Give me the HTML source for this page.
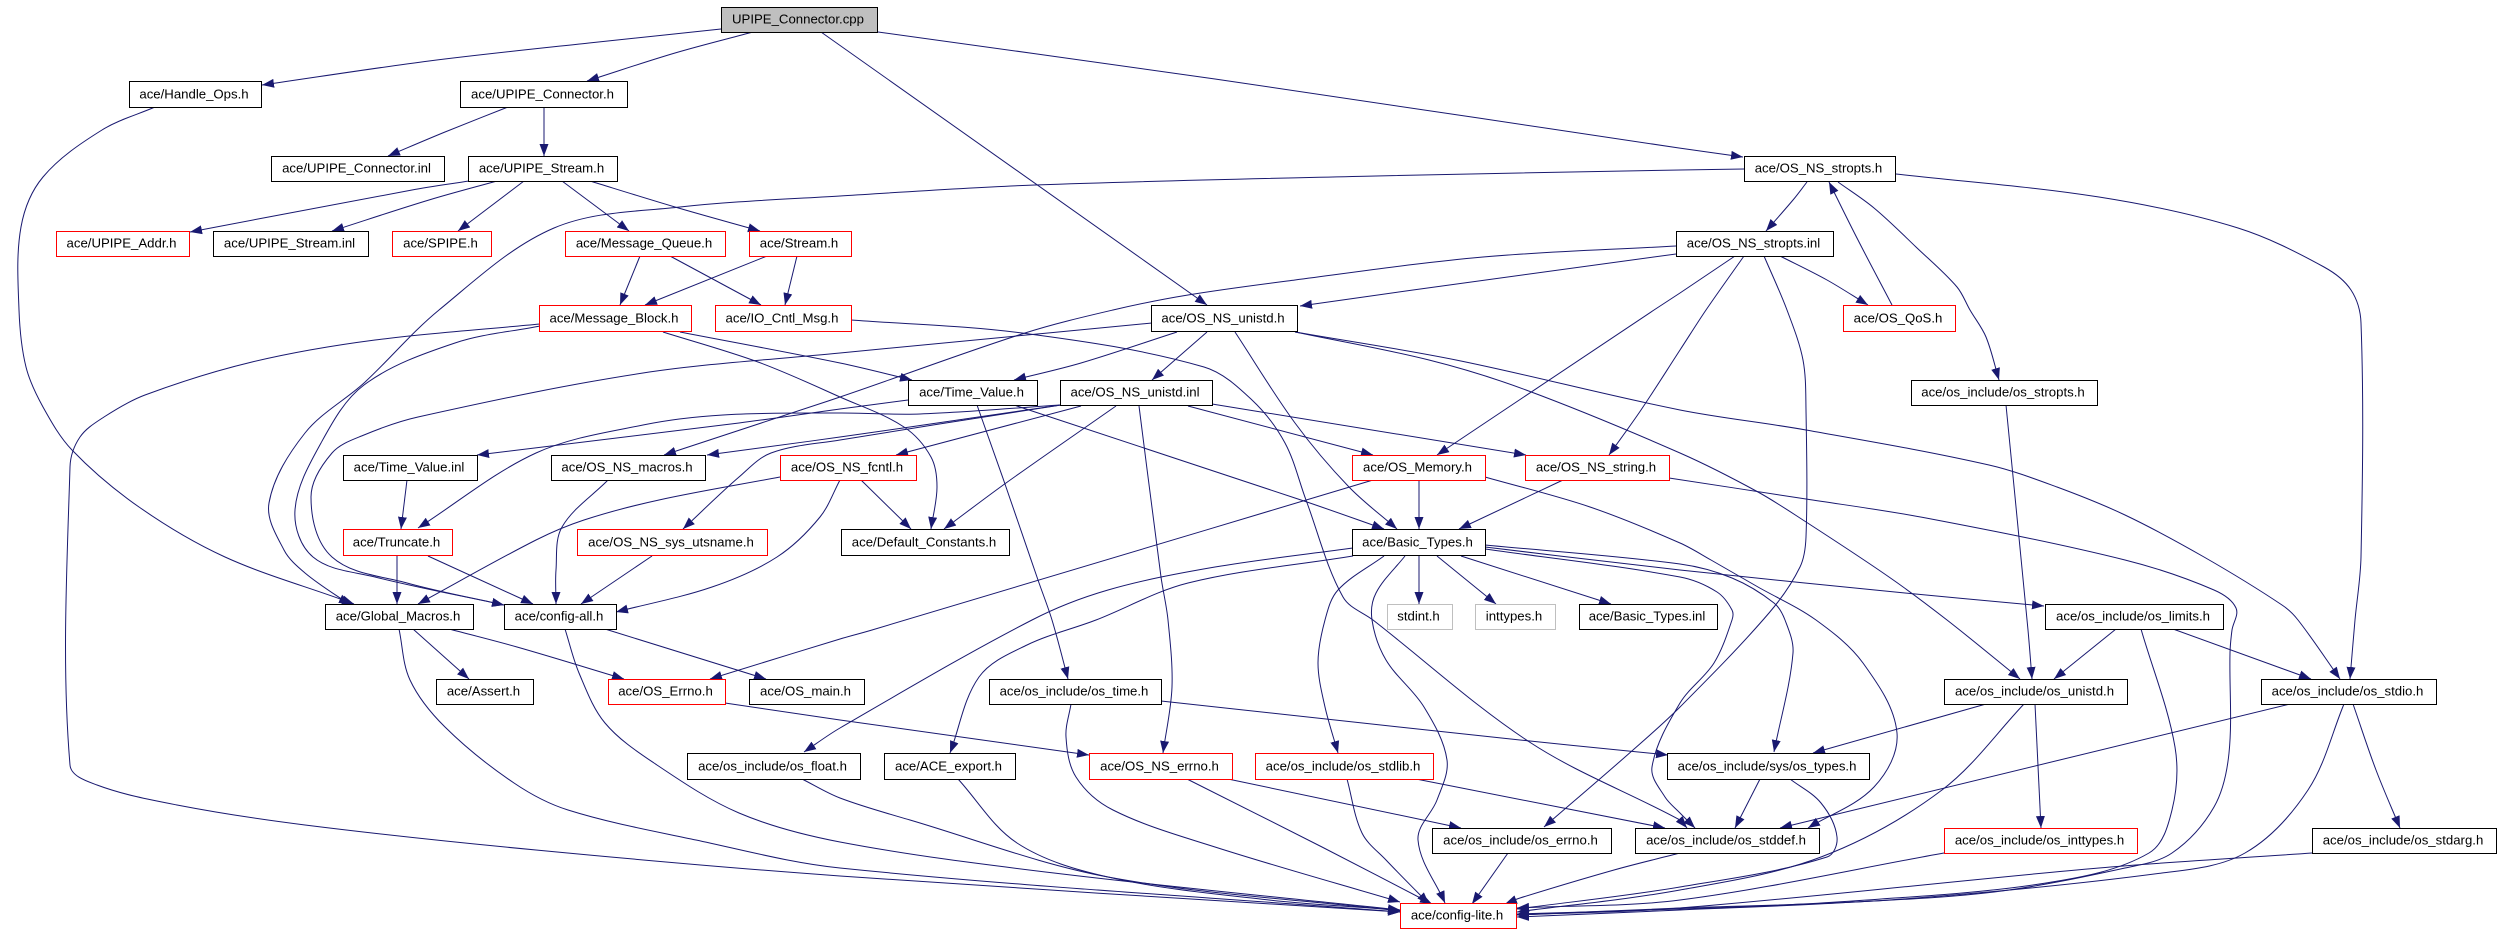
<!DOCTYPE html>
<html><head><meta charset="utf-8"><title>UPIPE_Connector.cpp</title>
<style>
html,body{margin:0;padding:0;background:#fff;width:2501px;height:933px;overflow:hidden}
svg{display:block}
#e polyline,#e path{fill:none;stroke:#191970;stroke-width:1;stroke-linejoin:round;marker-end:url(#a)}
#n rect{fill:#fff;stroke:#000;stroke-width:1.2;shape-rendering:crispEdges}
#n rect.r{stroke:#f00}
#n rect.g{stroke:#bfbfbf}
#n rect.c{fill:#bfbfbf}
#n text{font-family:"Liberation Sans",sans-serif;font-size:13.2px;text-anchor:middle;fill:#000;transform:translate(-1.5px,-1px)}
</style></head><body>
<svg xmlns="http://www.w3.org/2000/svg" width="2501" height="933" viewBox="0 0 2501 933">
<defs><marker id="a" markerUnits="userSpaceOnUse" markerWidth="13" markerHeight="10" refX="12" refY="5" orient="auto"><path d="M0,.5L12,5L0,9.5z" fill="#191970" stroke="none"/></marker></defs>
<g id="e">
<polyline points="721,29 589,43 429,61 262,85"/>
<polyline points="753,32 675,53 587,81"/>
<polyline points="821,32 1207,305"/>
<polyline points="878,32 1215,79 1679,148 1743,157"/>
<polyline points="155,107 102,130 43,177 21,227 19,310 26,367 43,407 72,450 139,507 225,557 343,600 354,604"/>
<polyline points="508,107 445,132 388,156"/>
<polyline points="544,107 544,156"/>
<polyline points="469,181 412,190 190,232"/>
<polyline points="497,181 429,200 332,231"/>
<polyline points="524,181 458,231"/>
<polyline points="562,181 629,231"/>
<polyline points="590,181 675,207 760,231"/>
<polyline points="640,256 620,305"/>
<polyline points="670,256 761,305"/>
<polyline points="767,256 645,305"/>
<polyline points="797,256 785,305"/>
<polyline points="1744,169 1680,170 1376,176 1035,185 840,196 680,207 554,228 439,310 364,383 305,433 269,503 284,550 305,573 343,600 351,604"/>
<polyline points="540,326 455,343 364,385 321,443 295,510 313,557 375,577 504,605"/>
<polyline points="1152,323 840,353 643,373 418,417 364,435 332,453 311,497 332,557 407,583 504,605"/>
<polyline points="540,324 375,340 252,362 145,395 104,417 80,437 70,467 70,765 97,785 177,805 305,825 536,850 840,876 1400,912"/>
<polyline points="680,332 840,363 912,380"/>
<polyline points="663,332 758,362 840,397 904,427 931,457 937,487 931,529"/>
<polyline points="851,320 1022,333 1204,367 1252,400 1285,443 1306,500 1343,597 1373,620 1531,743 1680,820 1687,828"/>
<polyline points="1405,556 1376,593 1372,620 1386,660 1424,707 1447,760 1437,800 1418,840 1445,903"/>
<polyline points="1807,182 1793,200 1766,231"/>
<polyline points="1892,305 1858,240 1829,182"/>
<polyline points="1838,182 1874,208 1916,247 1957,287 1970,310 1986,337 1999,380"/>
<polyline points="1896,174 2099,197 2238,228 2324,267 2351,290 2361,323 2361,557 2355,620 2350,679"/>
<polyline points="1780,256 1827,280 1868,305"/>
<polyline points="1764,256 1787,310 1803,360 1806,410 1806,537 1800,567 1769,613 1680,707 1633,750 1544,827"/>
<polyline points="1744,256 1706,310 1680,350 1641,410 1609,455"/>
<polyline points="1735,256 1680,293 1654,310 1437,455"/>
<polyline points="1676,254 1413,290 1300,306"/>
<polyline points="1676,246 1483,257 1295,280 1188,295 1113,310 1025,333 840,397 664,455"/>
<polyline points="1177,332 1081,363 1014,380"/>
<polyline points="1207,332 1152,380"/>
<polyline points="1235,332 1295,423 1349,487 1397,529"/>
<polyline points="1295,332 1429,360 1526,390 1680,453 1758,492 1803,520 1889,577 1947,620 2020,679"/>
<polyline points="1295,332 1456,360 1680,410 1806,430 1989,465 2057,487 2125,515 2204,557 2282,605 2298,620 2340,679"/>
<polyline points="908,400 840,409 739,423 477,455"/>
<polyline points="977,405 1006,487 1038,580 1052,620 1068,679"/>
<polyline points="1014,405 1301,500 1384,529"/>
<polyline points="1060,405 920,414 840,413 723,415 643,425 536,453 418,528"/>
<polyline points="1061,405 840,437 707,455"/>
<polyline points="1061,405 840,440 771,453 739,477 683,529"/>
<polyline points="1081,406 896,455"/>
<polyline points="1116,406 1006,483 944,529"/>
<polyline points="1139,406 1161,577 1168,620 1172,687 1163,753"/>
<polyline points="1188,406 1373,455"/>
<polyline points="1212,404 1526,455"/>
<polyline points="780,477 659,500 584,520 536,540 418,604"/>
<polyline points="840,480 820,517 777,557 712,587 616,612"/>
<polyline points="861,480 911,529"/>
<polyline points="608,480 562,527 556,570 556,604"/>
<polyline points="407,480 401,529"/>
<polyline points="397,556 397,604"/>
<polyline points="428,556 533,604"/>
<polyline points="652,556 581,604"/>
<polyline points="1373,480 872,630 840,639 710,679"/>
<polyline points="1419,480 1419,529"/>
<polyline points="1485,477 1590,507 1680,543 1711,560 1758,587 1816,620 1863,663 1897,733 1874,787 1808,828"/>
<polyline points="1485,547 1680,570 1905,593 2044,606"/>
<polyline points="1485,545 1680,564 1732,578 1774,603 1785,620 1793,653 1774,752"/>
<polyline points="1485,549 1680,577 1717,592 1732,610 1732,620 1714,663 1680,703 1652,767 1665,797 1680,813 1695,828"/>
<polyline points="1669,478 1806,499 1926,518 2125,560 2214,590 2236,608 2232,630 2230,653 2229,753 2214,807 2172,853 2125,868 1994,892 1837,903 1680,910 1517,917"/>
<polyline points="1563,480 1459,529"/>
<polyline points="2006,405 2028,630 2032,679"/>
<polyline points="1419,556 1419,604"/>
<polyline points="1437,556 1496,604"/>
<polyline points="1461,556 1611,604"/>
<polyline points="1353,548 1215,567 1108,590 1032,620 840,728 804,752"/>
<polyline points="1353,556 1188,583 1096,620 1027,645 979,677 950,753"/>
<polyline points="1384,556 1338,590 1325,620 1318,663 1325,707 1338,753"/>
<polyline points="413,629 469,679"/>
<polyline points="449,629 517,647 624,679"/>
<polyline points="399,629 410,680 445,727 514,783 568,810 696,840 840,868 1400,912"/>
<polyline points="605,629 766,679"/>
<polyline points="565,629 579,673 605,723 654,763 739,813 840,842 1054,873 1400,910"/>
<polyline points="725,703 840,720 1089,755"/>
<polyline points="802,779 840,798 910,820 1108,877 1400,911"/>
<polyline points="958,779 1017,843 1108,877 1269,900 1400,910"/>
<polyline points="1071,704 1066,737 1076,777 1113,810 1215,847 1400,902"/>
<polyline points="1161,701 1520,740 1668,755"/>
<polyline points="1187,779 1322,847 1432,904"/>
<polyline points="1228,779 1461,828"/>
<polyline points="1416,779 1665,828"/>
<polyline points="1347,779 1362,833 1386,860 1429,904"/>
<polyline points="1508,853 1472,904"/>
<polyline points="1680,853 1614,870 1520,898 1505,904"/>
<polyline points="1760,779 1735,828"/>
<polyline points="1790,779 1821,803 1837,837 1827,857 1680,887 1517,909"/>
<polyline points="1986,704 1813,753"/>
<polyline points="2035,704 2041,828"/>
<polyline points="2024,704 1942,790 1821,857 1680,890 1517,912"/>
<polyline points="2290,704 1780,828"/>
<polyline points="2344,704 2308,790 2245,853 2162,873 1889,900 1680,908 1517,915"/>
<polyline points="2353,704 2376,770 2400,828"/>
<polyline points="2116,629 2054,679"/>
<polyline points="2173,629 2311,679"/>
<polyline points="2141,629 2175,747 2172,810 2149,853 2046,883 1837,902 1680,909 1517,914"/>
<polyline points="1944,853 1680,900 1517,908"/>
<polyline points="2312,853 2099,868 1680,908 1517,915"/>
</g>
<g id="n">
<rect class="c" x="721.5" y="7.5" width="156" height="25"/><text x="799.5" y="24.5">UPIPE_Connector.cpp</text>
<rect x="129.5" y="81.5" width="132" height="26"/><text x="195.5" y="99.5">ace/Handle_Ops.h</text>
<rect x="460.5" y="81.5" width="167" height="26"/><text x="544" y="99.5">ace/UPIPE_Connector.h</text>
<rect x="271.5" y="156.5" width="173" height="25"/><text x="358" y="173.5">ace/UPIPE_Connector.inl</text>
<rect x="468.5" y="156.5" width="149" height="25"/><text x="543" y="173.5">ace/UPIPE_Stream.h</text>
<rect x="1744.5" y="156.5" width="151" height="25"/><text x="1820" y="173.5">ace/OS_NS_stropts.h</text>
<rect class="r" x="56.5" y="231.5" width="133" height="25"/><text x="123" y="248.5">ace/UPIPE_Addr.h</text>
<rect x="213.5" y="231.5" width="155" height="25"/><text x="291" y="248.5">ace/UPIPE_Stream.inl</text>
<rect class="r" x="392.5" y="231.5" width="99" height="25"/><text x="442" y="248.5">ace/SPIPE.h</text>
<rect class="r" x="565.5" y="231.5" width="160" height="25"/><text x="645.5" y="248.5">ace/Message_Queue.h</text>
<rect class="r" x="749.5" y="231.5" width="102" height="25"/><text x="800.5" y="248.5">ace/Stream.h</text>
<rect x="1676.5" y="231.5" width="157" height="25"/><text x="1755" y="248.5">ace/OS_NS_stropts.inl</text>
<rect class="r" x="539.5" y="305.5" width="152" height="26"/><text x="615.5" y="323.5">ace/Message_Block.h</text>
<rect class="r" x="715.5" y="305.5" width="136" height="26"/><text x="783.5" y="323.5">ace/IO_Cntl_Msg.h</text>
<rect x="1151.5" y="305.5" width="146" height="26"/><text x="1224.5" y="323.5">ace/OS_NS_unistd.h</text>
<rect class="r" x="1843.5" y="305.5" width="112" height="26"/><text x="1899.5" y="323.5">ace/OS_QoS.h</text>
<rect x="908.5" y="380.5" width="129" height="25"/><text x="973" y="397.5">ace/Time_Value.h</text>
<rect x="1060.5" y="380.5" width="152" height="25"/><text x="1136.5" y="397.5">ace/OS_NS_unistd.inl</text>
<rect x="1911.5" y="380.5" width="186" height="25"/><text x="2004.5" y="397.5">ace/os_include/os_stropts.h</text>
<rect x="343.5" y="455.5" width="134" height="25"/><text x="410.5" y="472.5">ace/Time_Value.inl</text>
<rect x="551.5" y="455.5" width="154" height="25"/><text x="628.5" y="472.5">ace/OS_NS_macros.h</text>
<rect class="r" x="780.5" y="455.5" width="136" height="25"/><text x="848.5" y="472.5">ace/OS_NS_fcntl.h</text>
<rect class="r" x="1352.5" y="455.5" width="133" height="25"/><text x="1419" y="472.5">ace/OS_Memory.h</text>
<rect class="r" x="1525.5" y="455.5" width="144" height="25"/><text x="1597.5" y="472.5">ace/OS_NS_string.h</text>
<rect class="r" x="343.5" y="529.5" width="109" height="26"/><text x="398" y="547.5">ace/Truncate.h</text>
<rect class="r" x="577.5" y="529.5" width="190" height="26"/><text x="672.5" y="547.5">ace/OS_NS_sys_utsname.h</text>
<rect x="841.5" y="529.5" width="168" height="26"/><text x="925.5" y="547.5">ace/Default_Constants.h</text>
<rect x="1352.5" y="529.5" width="133" height="26"/><text x="1419" y="547.5">ace/Basic_Types.h</text>
<rect x="325.5" y="604.5" width="148" height="25"/><text x="399.5" y="621.5">ace/Global_Macros.h</text>
<rect x="504.5" y="604.5" width="112" height="25"/><text x="560.5" y="621.5">ace/config-all.h</text>
<rect class="g" x="1387.5" y="604.5" width="65" height="25"/><text x="1420" y="621.5">stdint.h</text>
<rect class="g" x="1475.5" y="604.5" width="80" height="25"/><text x="1515.5" y="621.5">inttypes.h</text>
<rect x="1579.5" y="604.5" width="138" height="25"/><text x="1648.5" y="621.5">ace/Basic_Types.inl</text>
<rect x="2045.5" y="604.5" width="178" height="25"/><text x="2134.5" y="621.5">ace/os_include/os_limits.h</text>
<rect x="436.5" y="679.5" width="97" height="25"/><text x="485" y="696.5">ace/Assert.h</text>
<rect class="r" x="608.5" y="679.5" width="117" height="25"/><text x="667" y="696.5">ace/OS_Errno.h</text>
<rect x="749.5" y="679.5" width="115" height="25"/><text x="807" y="696.5">ace/OS_main.h</text>
<rect x="989.5" y="679.5" width="172" height="25"/><text x="1075.5" y="696.5">ace/os_include/os_time.h</text>
<rect x="1944.5" y="679.5" width="183" height="25"/><text x="2036" y="696.5">ace/os_include/os_unistd.h</text>
<rect x="2261.5" y="679.5" width="175" height="25"/><text x="2349" y="696.5">ace/os_include/os_stdio.h</text>
<rect x="687.5" y="753.5" width="173" height="26"/><text x="774" y="771.5">ace/os_include/os_float.h</text>
<rect x="884.5" y="753.5" width="131" height="26"/><text x="950" y="771.5">ace/ACE_export.h</text>
<rect class="r" x="1089.5" y="753.5" width="143" height="26"/><text x="1161" y="771.5">ace/OS_NS_errno.h</text>
<rect class="r" x="1255.5" y="753.5" width="178" height="26"/><text x="1344.5" y="771.5">ace/os_include/os_stdlib.h</text>
<rect x="1667.5" y="753.5" width="202" height="26"/><text x="1768.5" y="771.5">ace/os_include/sys/os_types.h</text>
<rect x="1432.5" y="828.5" width="179" height="25"/><text x="1522" y="845.5">ace/os_include/os_errno.h</text>
<rect x="1635.5" y="828.5" width="184" height="25"/><text x="1727.5" y="845.5">ace/os_include/os_stddef.h</text>
<rect class="r" x="1944.5" y="828.5" width="193" height="25"/><text x="2041" y="845.5">ace/os_include/os_inttypes.h</text>
<rect x="2312.5" y="828.5" width="184" height="25"/><text x="2404.5" y="845.5">ace/os_include/os_stdarg.h</text>
<rect class="r" x="1400.5" y="903.5" width="116" height="25"/><text x="1458.5" y="920.5">ace/config-lite.h</text>
</g>
</svg>
<script>
document.querySelectorAll('#e polyline').forEach(function(el){
  var n=el.getAttribute('points').trim().split(/\s+/).map(function(s){return s.split(',').map(Number)});
  if(n.length<3)return;
  function tan(i){var a=n[Math.max(i-1,0)],b=n[Math.min(i+1,n.length-1)],x=b[0]-a[0],y=b[1]-a[1],l=Math.hypot(x,y)||1;return [x/l,y/l]}
  var d='M'+n[0].join(',');
  for(var i=0;i<n.length-1;i++){
    var p=n[i],q=n[i+1],l=Math.hypot(q[0]-p[0],q[1]-p[1])/3,t=tan(i),u=tan(i+1);
    if(i==n.length-2){u=[(q[0]-p[0])/(3*l),(q[1]-p[1])/(3*l)]}
    d+='C'+(p[0]+t[0]*l).toFixed(1)+','+(p[1]+t[1]*l).toFixed(1)+' '+(q[0]-u[0]*l).toFixed(1)+','+(q[1]-u[1]*l).toFixed(1)+' '+q[0]+','+q[1];
  }
  var e=document.createElementNS('http://www.w3.org/2000/svg','path');
  e.setAttribute('d',d);el.parentNode.replaceChild(e,el);
});
</script>
</body></html>
